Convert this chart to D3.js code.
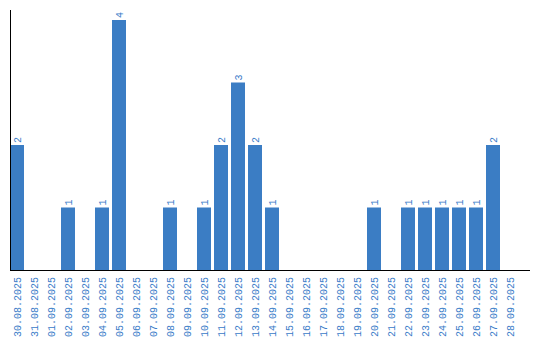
<!DOCTYPE html>
<html>
<head>
<meta charset="utf-8">
<script src="https://cdn.jsdelivr.net/npm/d3@7"></script>
<style>
  body { margin: 0; background: #fff; }
  text { font-family: "Liberation Mono", "Courier New", monospace; font-size: 10px; fill: #3a7bc8; }
</style>
</head>
<body>
<svg id="chart" width="540" height="340"></svg>
<script>
var dates = ['30.08.2025', '31.08.2025', '01.09.2025', '02.09.2025', '03.09.2025', '04.09.2025',
  '05.09.2025', '06.09.2025', '07.09.2025', '08.09.2025', '09.09.2025', '10.09.2025',
  '11.09.2025', '12.09.2025', '13.09.2025', '14.09.2025', '15.09.2025', '16.09.2025',
  '17.09.2025', '18.09.2025', '19.09.2025', '20.09.2025', '21.09.2025', '22.09.2025',
  '23.09.2025', '24.09.2025', '25.09.2025', '26.09.2025', '27.09.2025', '28.09.2025'];
var counts = [2, 0, 0, 1, 0, 1, 4, 0, 0, 1, 0, 1, 2, 3, 2, 1, 0, 0, 0, 0, 0, 1, 0, 1, 1, 1, 1, 1, 2, 0];

var svg = d3.select('#chart');

var x = d3.scaleBand().domain(dates).range([10, 517]).paddingInner(3 / 17).paddingOuter(0);
var y = d3.scaleLinear().domain([0, 4]).range([270, 20]);

var data = dates.map(function (d, i) { return {date: d, n: counts[i]}; });

svg.selectAll('rect.bar').data(data.filter(function (d) { return d.n > 0; }))
  .enter().append('rect')
  .attr('class', 'bar')
  .attr('x', function (d) { return x(d.date); })
  .attr('y', function (d) { return y(d.n); })
  .attr('width', x.bandwidth())
  .attr('height', function (d) { return y(0) - y(d.n); })
  .style('fill', '#3b7dc4');

// value labels
svg.selectAll('text.val').data(data.filter(function (d) { return d.n > 0; }))
  .enter().append('text')
  .attr('class', 'val')
  .attr('transform', function (d) {
    return 'translate(' + (x(d.date) + x.bandwidth() / 2) + ',' + (y(d.n) - 2) + ') rotate(-90)';
  })
  .attr('dy', '0.35em')
  .attr('text-anchor', 'start')
  .text(function (d) { return d.n; });

// date labels
svg.selectAll('text.lbl').data(dates)
  .enter().append('text')
  .attr('class', 'lbl')
  .attr('transform', function (d) {
    return 'translate(' + (x(d) + x.bandwidth() / 2) + ',277) rotate(-90)';
  })
  .attr('dy', '0.35em')
  .attr('text-anchor', 'end')
  .text(function (d) { return d; });

// axes lines
svg.append('line').attr('x1', 10.5).attr('x2', 10.5).attr('y1', 10).attr('y2', 270)
  .style('stroke', '#000').style('stroke-width', 1);
svg.append('line').attr('x1', 10).attr('x2', 530).attr('y1', 270.5).attr('y2', 270.5)
  .style('stroke', '#000').style('stroke-width', 1);
</script>
</body>
</html>
